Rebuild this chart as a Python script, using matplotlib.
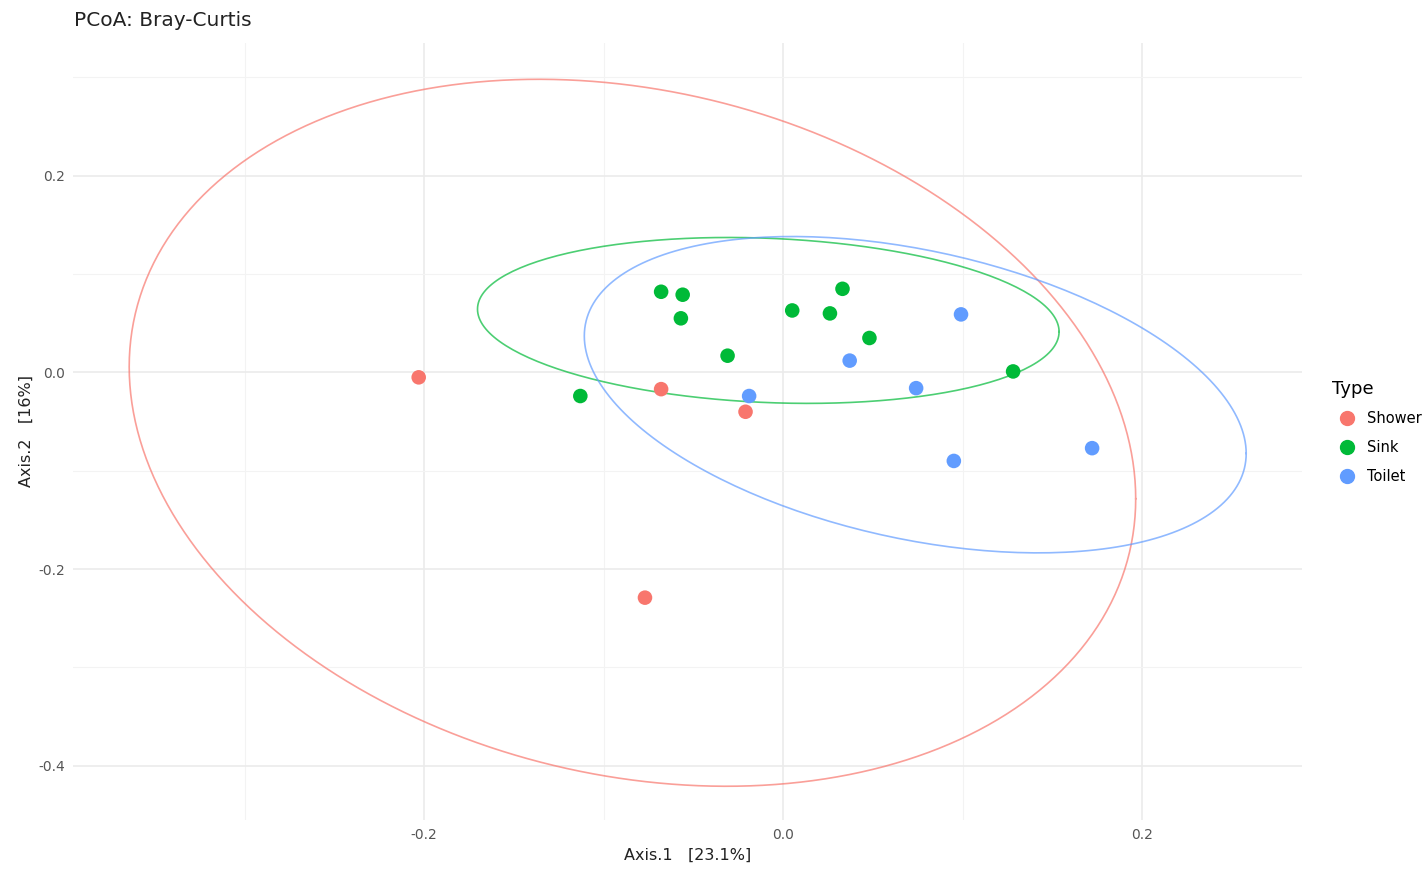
import numpy as np
import matplotlib
matplotlib.use("Agg")
import matplotlib.pyplot as plt
from matplotlib.lines import Line2D

# PCoA coordinates
shower_x = [-0.203, -0.068, -0.021, -0.077]
shower_y = [-0.005, -0.017, -0.040, -0.229]
sink_x = [-0.068, -0.056, -0.057, -0.031, -0.113, 0.005, 0.026, 0.033, 0.048, 0.128]
sink_y = [0.082, 0.079, 0.055, 0.017, -0.024, 0.063, 0.060, 0.085, 0.035, 0.001]
toilet_x = [-0.019, 0.037, 0.074, 0.099, 0.095, 0.172]
toilet_y = [-0.024, 0.012, -0.016, 0.059, -0.090, -0.077]

groups = ["Shower", "Sink", "Toilet"]
colors = ["#F8766D", "#00BA38", "#619CFF"]


def cov_trob(x, nu=5, maxit=25, tol=0.01):
    # port of MASS::cov.trob (unweighted)
    n, p = x.shape
    wt = np.ones(n)
    loc = x.mean(axis=0)
    w = np.sqrt(wt)
    for _ in range(maxit):
        w0 = w
        X = x - loc
        _, d, vt = np.linalg.svd(np.sqrt(w / w.sum())[:, None] * X, full_matrices=False)
        wX = X @ vt.T @ np.diag(1 / d)
        Q = (wX ** 2).sum(axis=1)
        w = wt * (nu + p) / (nu + Q)
        loc = (w[:, None] * x).sum(axis=0) / w.sum()
        if np.all(np.abs(w - w0) < tol):
            break
    X = x - loc
    cov = (np.sqrt(w)[:, None] * X).T @ (np.sqrt(w)[:, None] * X) / wt.sum()
    return loc, cov


def ellipse(xs, ys, level=0.95, segments=240):
    pts = np.column_stack([xs, ys])
    center, shape = cov_trob(pts)
    dfn, dfd = 2, len(xs) - 1
    # F quantile for dfn = 2 has a closed form
    qf = dfd / 2 * ((1 - level) ** (-2 / dfd) - 1)
    radius = np.sqrt(dfn * qf)
    chol = np.linalg.cholesky(shape).T
    ang = np.linspace(0, 2 * np.pi, segments + 1)
    circ = np.column_stack([np.cos(ang), np.sin(ang)])
    e = center + radius * circ @ chol
    return e[:, 0], e[:, 1]


fig = plt.figure(figsize=(14.26, 8.76), dpi=100)
ax = fig.add_axes([0.0512, 0.064, 0.862, 0.887])

data = [(shower_x, shower_y), (sink_x, sink_y), (toilet_x, toilet_y)]
for (xs, ys), c in zip(data, colors):
    ex, ey = ellipse(xs, ys)
    ax.plot(ex, ey, color=c, lw=1.2, alpha=0.7, zorder=2)
for (xs, ys), c in zip(data, colors):
    ax.scatter(xs, ys, s=110, color=c, edgecolors="none", zorder=3)

ax.set_xlim(-0.3955, 0.289)
ax.set_ylim(-0.455, 0.335)
ax.set_xticks([-0.2, 0.0, 0.2])
ax.set_xticklabels(["-0.2", "0.0", "0.2"])
ax.set_yticks([-0.4, -0.2, 0.0, 0.2])
ax.set_yticklabels(["-0.4", "-0.2", "0.0", "0.2"])
ax.set_xticks([-0.3, -0.1, 0.1], minor=True)
ax.set_yticks([-0.3, -0.1, 0.1, 0.3], minor=True)
ax.grid(which="major", color="#EBEBEB", lw=1.2)
ax.grid(which="minor", color="#F3F3F3", lw=0.8)
ax.set_axisbelow(True)
for s in ax.spines.values():
    s.set_visible(False)
ax.tick_params(which="both", length=0, labelsize=10, colors="#555555", pad=6)

ax.set_xlabel("Axis.1   [23.1%]", fontsize=11.5, color="#222222", labelpad=4)
ax.set_ylabel("Axis.2   [16%]", fontsize=11.5, color="#222222", labelpad=3)
fig.text(0.052, 0.977, "PCoA: Bray-Curtis", fontsize=14.5, color="#222222", va="center")

handles = [Line2D([], [], marker="o", ls="", color=c, markersize=10) for c in colors]
leg = fig.legend(handles, groups, title="Type", loc="center left",
                 bbox_to_anchor=(0.925, 0.507), frameon=False, fontsize=10.5,
                 title_fontsize=13, handletextpad=0.4, labelspacing=0.95)
leg._legend_box.align = "left"

fig.savefig("out.png", dpi=100)
